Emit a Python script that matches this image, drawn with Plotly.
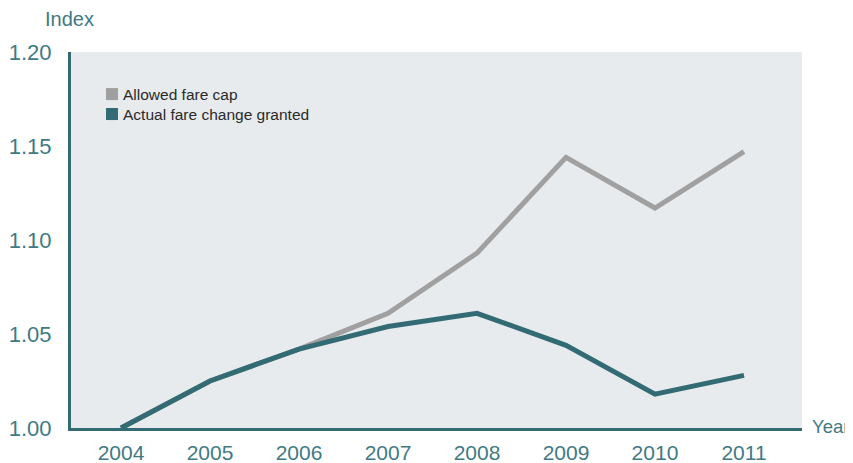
import plotly.graph_objects as go

years = [2004, 2005, 2006, 2007, 2008, 2009, 2010, 2011]
allowed_cap = [1.000, 1.025, 1.042, 1.061, 1.093, 1.144, 1.117, 1.147]
actual_change = [1.000, 1.025, 1.042, 1.054, 1.061, 1.044, 1.018, 1.028]
y_ticks = [1.00, 1.05, 1.10, 1.15, 1.20]
y_tick_labels = ["1.00", "1.05", "1.10", "1.15", "1.20"]
series_names = ["Allowed fare cap", "Actual fare change granted"]

TEAL = "#336b74"
GRAY = "#a0a0a0"
TXT = "#3f7a84"
FONT = "Liberation Sans"

fig = go.Figure()
fig.add_trace(go.Scatter(x=years, y=allowed_cap, mode="lines", name=series_names[0],
                         line=dict(color=GRAY, width=5), showlegend=False))
fig.add_trace(go.Scatter(x=years, y=actual_change, mode="lines", name=series_names[1],
                         line=dict(color=TEAL, width=5), showlegend=False))

# legend drawn as squares + labels inside the plot area
legend_rows = [(0.904, 0.872, 0.888, GRAY), (0.851, 0.819, 0.835, TEAL)]
shapes = []
annotations = []
for name, (y0, y1, yc, col) in zip(series_names, legend_rows):
    shapes.append(dict(type="rect", xref="paper", yref="paper", x0=0.0479, x1=0.0643,
                       y0=y1, y1=y0, fillcolor=col, line=dict(width=0)))
    annotations.append(dict(text=name, xref="paper", yref="paper", x=0.069, y=yc,
                            xanchor="left", yanchor="middle", showarrow=False,
                            font=dict(size=15.5, color="#2a2a2a")))

annotations += [
    dict(text="Index", xref="paper", yref="paper", x=0, y=1.0, xshift=-28, yshift=20,
         xanchor="left", yanchor="bottom", showarrow=False,
         font=dict(size=20, color=TXT)),
    dict(text="Year", xref="paper", yref="paper", x=1.0, y=0.0, xshift=8, yshift=2,
         xanchor="left", yanchor="middle", showarrow=False,
         font=dict(size=18.5, color=TXT)),
]

fig.update_layout(
    width=845, height=455,
    margin=dict(l=63, r=51, t=44, b=35, autoexpand=False),
    paper_bgcolor="white",
    plot_bgcolor="#e8ebee",
    font=dict(family=FONT, color=TXT, size=20),
    showlegend=False,
    xaxis=dict(range=[2003.438, 2011.652], tickmode="array", tickvals=years,
               ticktext=[str(y) for y in years], showgrid=False, zeroline=False,
               showline=True, linecolor=TEAL, linewidth=3, ticks="", automargin=False,
               ticklabelstandoff=4, tickfont=dict(size=21, color=TXT)),
    yaxis=dict(range=[1.0, 1.2], tickmode="array", tickvals=y_ticks,
               ticktext=y_tick_labels, showgrid=False, zeroline=False,
               showline=True, linecolor=TEAL, linewidth=3, ticks="", automargin=False,
               ticklabelstandoff=12, tickfont=dict(size=22, color=TXT)),
    shapes=shapes,
    annotations=annotations,
)

fig.write_html("out.html")
